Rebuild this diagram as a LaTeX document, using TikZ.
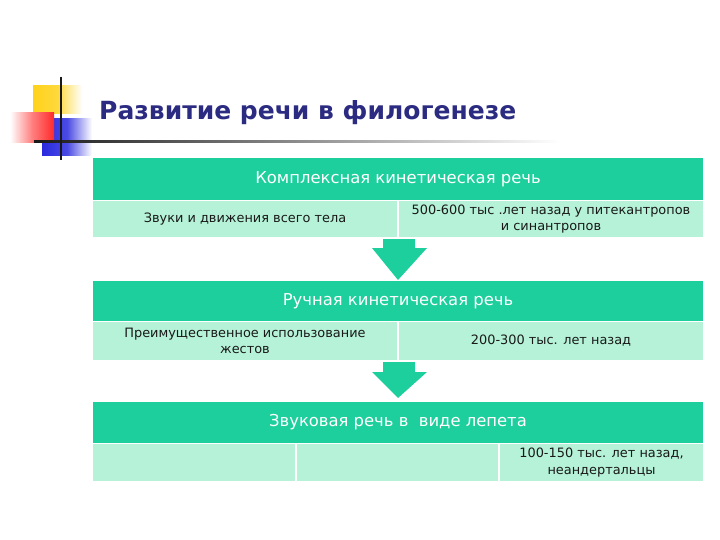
\documentclass[tikz,border=0pt]{standalone}
\usepackage{fontspec}
\setmainfont{DejaVu Sans}
\usetikzlibrary{calc}
\definecolor{hdr}{HTML}{1DCF9C}
\definecolor{cell}{HTML}{B5F2D8}
\definecolor{ttl}{HTML}{2B2B82}
\definecolor{dyel}{HTML}{FFD21A}
\definecolor{dred}{HTML}{FF2A2A}
\definecolor{dblue}{HTML}{2A2ADF}
\tikzset{
  hdrbox/.style={fill=hdr, inner sep=0pt, outer sep=0pt, minimum width=610pt,
    text=white, font=\fontsize{16.4}{19}\selectfont},
  cellbox/.style={fill=cell, inner sep=0pt, outer sep=0pt, align=center,
    font=\fontsize{12.9}{16.5}\selectfont, text=black!90},
  bigarrow/.style={fill=hdr, draw=none},
}
\begin{document}
\begin{tikzpicture}[x=1pt,y=-1pt]
\useasboundingbox (0,0) rectangle (720,540);
% decoration
\shade[left color=dyel, right color=white, middle color=dyel!85] (33,86) rectangle (82,114);
\shade[left color=dblue, right color=white, middle color=dblue!85] (42,119) rectangle (92,156);
\shade[left color=white, right color=dred, middle color=dred!60] (10,113) rectangle (54,143);
\shade[left color=black!90, right color=white] (34,140.5) rectangle (560,142.5);
\draw[line width=2pt, black!90] (61,77) -- (61,160);
% title
\node[anchor=west, text=ttl, font=\fontsize{25}{28}\bfseries\selectfont, inner sep=0pt] (title) at (99,113) {Развитие речи в филогенезе};
% block 1
\node[hdrbox, minimum height=42pt] (h1) at (398,179) {Комплексная кинетическая речь};
\node[cellbox, minimum width=304pt, minimum height=36pt] (c1a) at (245,219) {Звуки и движения всего тела};
\node[cellbox, minimum width=304pt, minimum height=36pt] (c1b) at (551,219) {500-600 тыс .лет назад у питекантропов\\и синантропов};
% arrow 1
\coordinate (a1) at (398,239);
\fill[bigarrow] ($(a1)+(-15,0)$) -- ($(a1)+(17,0)$) -- ($(a1)+(17,9)$) -- ($(a1)+(29,9)$) -- ($(a1)+(0,41)$) -- ($(a1)+(-26,9)$) -- ($(a1)+(-15,9)$) -- cycle;
% block 2
\node[hdrbox, minimum height=40pt] (h2) at (398,301) {Ручная кинетическая речь};
\node[cellbox, minimum width=304pt, minimum height=38pt] (c2a) at (245,341) {Преимущественное использование\\жестов};
\node[cellbox, minimum width=304pt, minimum height=38pt] (c2b) at (551,341) {200-300 тыс. лет назад};
% arrow 2
\coordinate (a2) at (398,362);
\fill[bigarrow] ($(a2)+(-15,0)$) -- ($(a2)+(17,0)$) -- ($(a2)+(17,10)$) -- ($(a2)+(29,10)$) -- ($(a2)+(0,36)$) -- ($(a2)+(-26,10)$) -- ($(a2)+(-15,10)$) -- cycle;
% block 3
\node[hdrbox, minimum height=41pt] (h3) at (398,422.5) {Звуковая речь в\ \ виде лепета};
\node[cellbox, minimum width=202pt, minimum height=37pt] (c3a) at (194,462.5) {};
\node[cellbox, minimum width=201pt, minimum height=37pt] (c3b) at (397.5,462.5) {};
\node[cellbox, minimum width=203pt, minimum height=37pt] (c3c) at (601.5,462.5) {100-150 тыс. лет назад,\\неандертальцы};
\end{tikzpicture}
\end{document}
